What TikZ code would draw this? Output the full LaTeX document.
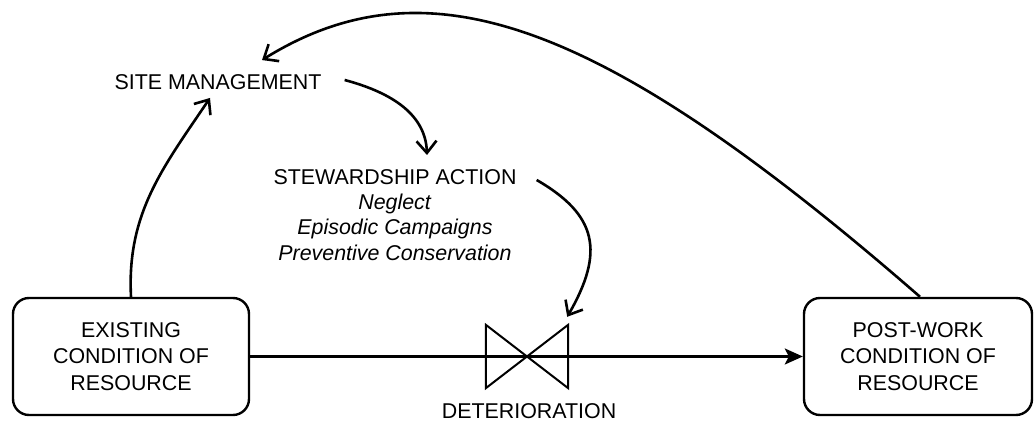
\documentclass[tikz,border=0pt]{standalone}
\usepackage{fontspec}
\setmainfont{Liberation Sans}
\usetikzlibrary{arrows.meta}
\begin{document}
\begin{tikzpicture}[x=1pt,y=1pt,
  stock/.style={draw,line width=2.4pt,rounded corners=16pt,minimum width=236pt,minimum height=117pt,align=center,font=\fontsize{21.4}{26.5}\selectfont,inner sep=0pt},
  lbl/.style={inner sep=0pt,font=\fontsize{21.4}{25.3}\selectfont},
  link/.style={line width=2.6pt,-{Straight Barb[length=12pt,width=20pt]}},
  flow/.style={line width=2.2pt,-{Stealth[length=18pt,width=16pt,inset=4pt]}},
]
\useasboundingbox (0,0) rectangle (1034,423);
\node[stock] (exist) at (131,66.5) {EXISTING\\CONDITION OF\\RESOURCE};
\node[stock, minimum width=228pt] (post) at (918,66.5) {POST-WORK\\CONDITION OF\\RESOURCE};
\node[minimum width=82pt,minimum height=63pt,inner sep=0pt] (valve) at (527,66.5) {};
\draw[flow] (exist) -- (post);
\draw[line width=2pt] (valve.south west) -- (valve.north east) -- (valve.south east) -- (valve.north west) -- cycle;
\node[lbl,text height=15.5pt,text depth=0pt] (det) at (529,12) {DETERIORATION};
\node[lbl,text height=15.5pt,text depth=0pt] (site) at (218,341) {SITE MANAGEMENT};
\node[lbl,align=center,anchor=north] (stew) at (395,254) {STEWARDSHIP ACTION\\\textit{Neglect}\\\textit{Episodic Campaigns}\\\textit{Preventive Conservation}};
\draw[link] (exist.north) to[out=93,in=236] ([shift={(-8,-8)}]site.south);
\draw[link] ([shift={(23,2)}]site.east) to[out=-15,in=92] ([shift={(32,14)}]stew.north);
\draw[link] ([shift={(20,-11)}]stew.north east) .. controls +(60.6,-35) and +(37.5,65) .. ([shift={(-1,8)}]valve.north east);
\draw[link] ([xshift=2pt]post.north) .. controls +(-317,276) and +(166,103) .. ([shift={(44,14)}]site.north);
\end{tikzpicture}
\end{document}
